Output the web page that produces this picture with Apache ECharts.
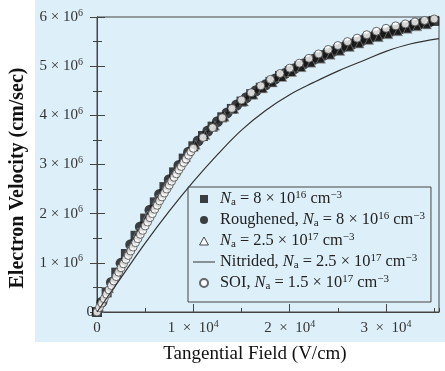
<!DOCTYPE html>
<html>
<head>
<meta charset="utf-8">
<script src="https://cdn.jsdelivr.net/npm/echarts@6/dist/echarts.min.js"></script>
<style>
html, body { margin: 0; padding: 0; background: #fff; }
#wrap { position: relative; width: 445px; height: 371px; }
#bg { position: absolute; left: 35px; top: 0; width: 410px; height: 342px; background: #ddf0fa; }
#chart { position: absolute; left: 0; top: 0; width: 445px; height: 371px; }
</style>
</head>
<body>
<div id="wrap"><div id="bg"></div><div id="chart"></div></div>
<script>
// velocities are in units of 10^6 cm/sec, fields in V/cm
const fieldSq = [0,1000,2000,3000,4000,5000,6000,7000,8000,9000,10000,11000,12000,13000,14000,15000,16000,17000,
  18000,19000,20000,21000,22000,23000,24000,25000,26000,27000,28000,29000,30000,31000,32000,33000,34000,35000];
const velSq = [0,0.4,0.8,1.18,1.55,1.9,2.23,2.54,2.84,3.12,3.37,3.58,3.77,3.96,4.13,4.28,4.43,4.56,
  4.68,4.8,4.9,5.0,5.09,5.18,5.26,5.34,5.42,5.49,5.56,5.62,5.68,5.74,5.79,5.84,5.88,5.92];

const fieldRough = [500,1500,2500,3500,4500,5500,6500,7500,8500,9500,10500,11500,12500,13500,14500,15500,16500,
  17500,18500,19500,20500,21500,22500,23500,24500,25500,26500,27500,28500,29500,30500,31500,32500,33500,34500];
const velRough = [0.2,0.6,0.99,1.37,1.73,2.07,2.39,2.69,2.98,3.25,3.48,3.68,3.87,4.05,4.21,4.36,4.5,
  4.62,4.74,4.85,4.95,5.05,5.14,5.22,5.3,5.38,5.45,5.52,5.59,5.65,5.71,5.76,5.81,5.86,5.9];

const fieldTri = [250,1250,2250,3250,4250,5250,6250,7250,8250,9250,10250,11250,12250,13250,14250,15250,16250,
  17250,18250,19250,20250,21250,22250,23250,24250,25250,26250,27250,28250,29250,30250,31250,32250,33250,34250];
const velTri = [0.09,0.48,0.87,1.25,1.62,1.96,2.29,2.59,2.88,3.15,3.4,3.6,3.79,3.97,4.13,4.28,4.42,
  4.55,4.67,4.78,4.88,4.98,5.07,5.15,5.23,5.31,5.39,5.46,5.53,5.59,5.65,5.71,5.76,5.81,5.85];

const fieldNit = [0,2500,5000,7500,10000,12500,15000,17500,20000,22500,25000,27500,30000,32500,35500];
const velNit = [0,0.7,1.4,2.05,2.65,3.2,3.7,4.1,4.42,4.67,4.9,5.1,5.3,5.45,5.56];

const fieldSOI = [0,250,500,750,1000,1250,1500,1750,2000,2250,2500,2750,3000,3250,3500,3750,4000,4250,4500,4750,
  5000,5250,5500,5750,6000,6250,6500,6750,7000,7250,7500,7750,8000,8250,8500,8750,9000,9250,9500,9750,10000,
  11000,12000,13000,14000,15000,16000,17000,18000,19000,20000,21000,22000,23000,24000,25000,26000,27000,28000,
  29000,30000,31000,32000,33000,34000,35000];
const velSOI = [0,0.09,0.18,0.27,0.36,0.45,0.54,0.63,0.72,0.81,0.9,0.98,1.07,1.15,1.24,1.32,1.41,1.49,1.58,1.66,
  1.75,1.83,1.92,2.0,2.09,2.17,2.26,2.34,2.42,2.5,2.58,2.66,2.74,2.81,2.89,2.96,3.04,3.11,3.19,3.26,3.33,
  3.55,3.75,3.95,4.14,4.31,4.46,4.6,4.73,4.85,4.96,5.06,5.16,5.25,5.34,5.42,5.5,5.57,5.64,
  5.71,5.77,5.82,5.86,5.9,5.93,5.96];

const xTicks = [10000, 20000, 30000];
const legendNames = ['Na 8e16', 'Roughened', 'Na 2.5e17', 'Nitrided', 'SOI'];
const legendText = {
  'Na 8e16': '{i|N}{sub|a} = 8 × 10{sup|16} cm{sup|−3}',
  'Roughened': 'Roughened, {i|N}{sub|a} = 8 × 10{sup|16} cm{sup|−3}',
  'Na 2.5e17': '{i|N}{sub|a} = 2.5 × 10{sup|17} cm{sup|−3}',
  'Nitrided': 'Nitrided, {i|N}{sub|a} = 2.5 × 10{sup|17} cm{sup|−3}',
  'SOI': 'SOI, {i|N}{sub|a} = 1.5 × 10{sup|17} cm{sup|−3}'
};

const serif = 'Liberation Serif';
const axisCol = '#444';
const pairs = (xs, ys) => xs.map((x, i) => [x, ys[i]]);

const chart = echarts.init(document.getElementById('chart'));

chart.setOption({
  animation: false,
  backgroundColor: 'transparent',
  grid: { left: 97, right: 6, top: 17, bottom: 59, show: true, borderColor: axisCol, borderWidth: 1 },
  graphic: [
    { type: 'text', x: 18, y: 178, rotation: Math.PI / 2,
      style: { text: 'Electron Velocity (cm/sec)', font: 'bold 20px "Liberation Serif"', fill: '#111',
        textAlign: 'center', textVerticalAlign: 'middle' } },
    { type: 'text', x: 255, y: 354,
      style: { text: 'Tangential Field (V/cm)', font: '19px "Liberation Serif"', fill: '#111',
        textAlign: 'center', textVerticalAlign: 'middle' } }
  ],
  xAxis: [
    {
      type: 'value', min: 0, max: 35500, interval: 10000, position: 'bottom',
      axisLine: { lineStyle: { color: axisCol } },
      axisTick: { inside: true, length: 8, lineStyle: { color: axisCol } },
      splitLine: { show: false },
      axisLabel: {
        margin: 7, showMaxLabel: false,
        formatter: v => v === 0 ? '{b|0}' : (xTicks.indexOf(v) >= 0 ? '{b|' + v / 10000 + '\u2002×\u200210}{s|4}' : ''),
        rich: {
          b: { fontFamily: serif, fontSize: 15, color: '#333', lineHeight: 18 },
          s: { fontFamily: serif, fontSize: 10, color: '#333', verticalAlign: 'top', lineHeight: 10 }
        }
      }
    },
    {
      type: 'value', min: 0, max: 35500, interval: 5000, position: 'bottom',
      axisLine: { show: false },
      axisTick: { inside: true, length: 4, lineStyle: { color: axisCol } },
      axisLabel: { show: false },
      splitLine: { show: false }
    }
  ],
  yAxis: [
    {
      type: 'value', min: 0, max: 6, interval: 1, position: 'left',
      axisLine: { show: true, lineStyle: { color: axisCol } },
      axisTick: { inside: true, length: 8, lineStyle: { color: axisCol } },
      minorTick: { show: true, splitNumber: 2, length: 5, lineStyle: { color: axisCol } },
      splitLine: { show: false },
      axisLabel: {
        margin: 3,
        formatter: v => v === 0 ? '{b|0}' : '{b|' + v + ' × 10}{s|6}',
        rich: {
          b: { fontFamily: serif, fontSize: 15, color: '#333', lineHeight: 18 },
          s: { fontFamily: serif, fontSize: 10, color: '#333', verticalAlign: 'top', lineHeight: 10, padding: [0, 11, 0, 0] }
        }
      }
    },
    {
      type: 'value', min: 0, max: 6, interval: 1, position: 'right',
      axisLine: { show: true, lineStyle: { color: axisCol } },
      axisTick: { inside: true, length: 7, lineStyle: { color: axisCol } },
      minorTick: { show: true, splitNumber: 2, length: 4, lineStyle: { color: axisCol } },
      axisLabel: { show: false },
      splitLine: { show: false }
    }
  ],
  legend: {
    orient: 'vertical', left: 188, top: 187,
    padding: [3, 6, 10, 5], itemGap: 3, itemWidth: 22, itemHeight: 8,
    symbolKeepAspect: true,
    borderColor: axisCol, borderWidth: 1, backgroundColor: 'transparent',
    data: [
      { name: legendNames[0], icon: 'path://M0,0H10V10H0Z', itemStyle: { color: '#111' } },
      { name: legendNames[1], icon: 'circle', itemStyle: { color: '#111' } },
      { name: legendNames[2], icon: 'path://M5,0L10,9L0,9Z', itemStyle: { color: '#fff', borderColor: '#222', borderWidth: 1 } },
      { name: legendNames[3], icon: 'path://M0,0H22V1H0Z', itemStyle: { color: '#333' } },
      { name: legendNames[4], icon: 'circle' }
    ],
    formatter: n => legendText[n],
    textStyle: {
      fontFamily: serif, fontSize: 16.4, color: '#222', lineHeight: 18,
      rich: {
        i: { fontFamily: serif, fontSize: 16.4, fontStyle: 'italic', color: '#222', lineHeight: 18 },
        sub: { fontFamily: serif, fontSize: 11, color: '#222', verticalAlign: 'bottom', lineHeight: 11 },
        sup: { fontFamily: serif, fontSize: 11, color: '#222', verticalAlign: 'top', lineHeight: 11 }
      }
    }
  },
  series: [
    { name: legendNames[0], type: 'scatter', symbol: 'rect', symbolSize: 10, silent: true,
      itemStyle: { color: '#111' }, data: pairs(fieldSq, velSq) },
    { name: legendNames[1], type: 'scatter', symbol: 'circle', symbolSize: 11, silent: true,
      itemStyle: { color: '#111' }, data: pairs(fieldRough, velRough) },
    { name: legendNames[2], type: 'scatter', symbol: 'triangle', symbolSize: 9, silent: true,
      itemStyle: { color: '#1a1a1a', borderColor: '#9a9a9a', borderWidth: 0.7 }, data: pairs(fieldTri, velTri) },
    { name: legendNames[3], type: 'line', symbol: 'none', smooth: 0.4, silent: true,
      lineStyle: { color: '#333', width: 1.2 }, itemStyle: { color: '#333' }, data: pairs(fieldNit, velNit) },
    { name: legendNames[4], type: 'scatter', symbol: 'circle', symbolSize: 8, silent: true,
      itemStyle: { color: '#fff', borderColor: '#444', borderWidth: 1 }, data: pairs(fieldSOI, velSOI) }
  ]
});
</script>
</body>
</html>
